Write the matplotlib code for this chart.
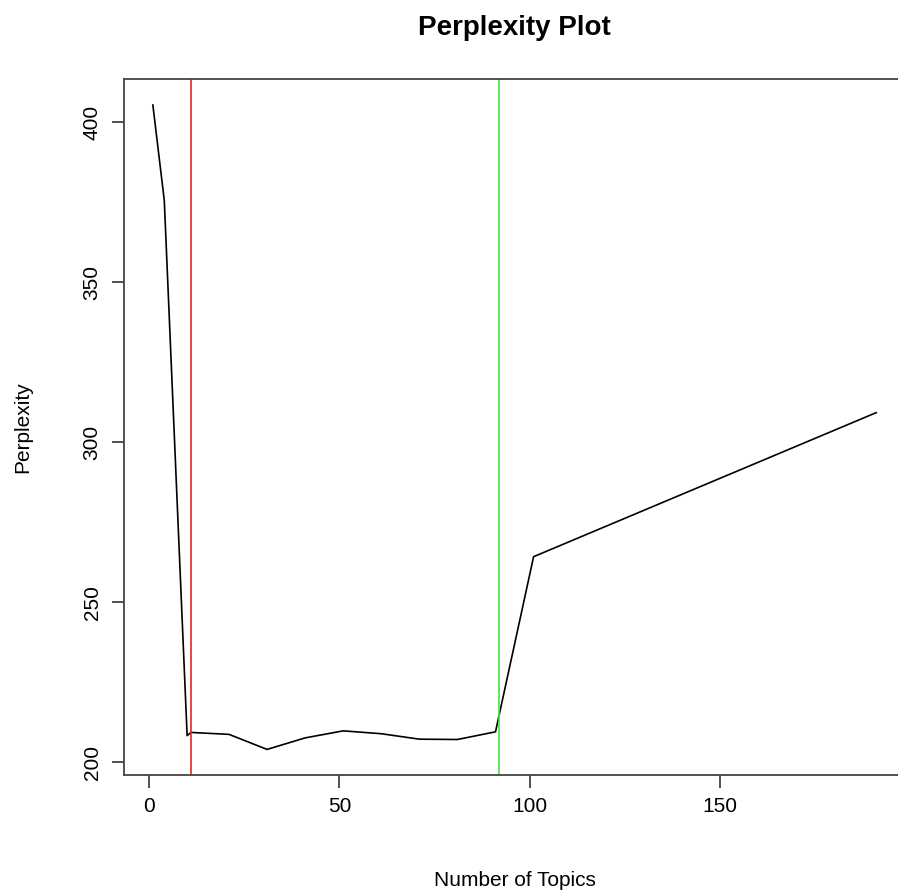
import matplotlib
matplotlib.use("Agg")
import matplotlib.pyplot as plt

topics = [1, 4, 10, 11, 21, 31, 41, 51, 61, 71, 81, 91, 101, 191]
perplexity = [405.3, 375.5, 208.3, 209.3, 208.7, 204.0, 207.6, 209.8, 208.9, 207.2, 207.1, 209.5, 264.2, 309.2]
red_line = 11
green_line = 92
xticks = [0, 50, 100, 150]
yticks = [200, 250, 300, 350, 400]

plt.rcParams['font.family'] = ['Liberation Sans', 'DejaVu Sans']

fig = plt.figure(figsize=(8.98, 8.9), dpi=100)
ax_left, ax_w = 0.138, 0.870
ax = fig.add_axes([ax_left, 0.129, ax_w, 0.782])

ax.plot(topics, perplexity, color='black', lw=1.2)
ax.axvline(red_line, color='#e02828', lw=1.2)
ax.axvline(green_line, color='#3ee83e', lw=1.2)

xr = max(topics) - min(topics)
ax.set_xlim(min(topics) - 0.04 * xr, max(topics) + 0.04 * xr)
yr = max(perplexity) - min(perplexity)
ax.set_ylim(min(perplexity) - 0.04 * yr, max(perplexity) + 0.04 * yr)

ax.set_xticks(xticks)
ax.set_yticks(yticks)
ax.set_yticklabels([str(v) for v in yticks], rotation=90, va='center')
ax.tick_params(direction='out', length=9, width=1.2, labelsize=15, color='#333333', pad=7)
for s in ax.spines.values():
    s.set_color('#444444')
    s.set_linewidth(1.3)

ax.set_xlabel('Number of Topics', fontsize=15, labelpad=39)
ax.set_ylabel('Perplexity', fontsize=15, labelpad=36)
fig.text(ax_left + ax_w / 2, 1 - 28 / 890, 'Perplexity Plot', ha='center', va='center',
         fontsize=20, fontweight='bold')

fig.savefig('out.png', dpi=100)
